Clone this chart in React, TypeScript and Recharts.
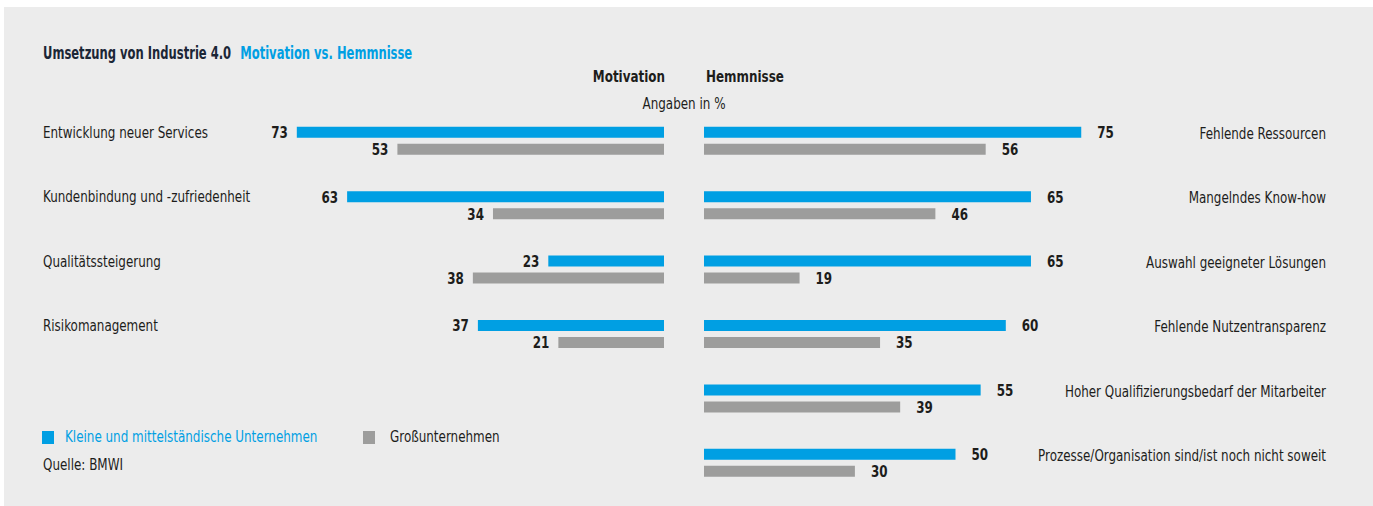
import React from 'react';
import { BarChart, Bar, XAxis, YAxis, LabelList } from 'recharts';

const motivationCategories = [
  'Entwicklung neuer Services',
  'Kundenbindung und -zufriedenheit',
  'Qualitätssteigerung',
  'Risikomanagement',
];
const motivationKMU = [73, 63, 23, 37];
const motivationGross = [53, 34, 38, 21];

const hemmnisCategories = [
  'Fehlende Ressourcen',
  'Mangelndes Know-how',
  'Auswahl geeigneter Lösungen',
  'Fehlende Nutzentransparenz',
  'Hoher Qualifizierungsbedarf der Mitarbeiter',
  'Prozesse/Organisation sind/ist noch nicht soweit',
];
const hemmnisKMU = [75, 65, 65, 60, 55, 50];
const hemmnisGross = [56, 46, 19, 35, 39, 30];

const seriesNames = ['Kleine und mittelständische Unternehmen', 'Großunternehmen'];

const BLUE = '#009fe3';
const GRAY = '#9d9d9c';
const BG = '#ececec';
const TEXT = '#1d1d1b';
const FONT = "'DejaVu Sans Condensed', 'DejaVu Sans', sans-serif";
const SX = 0.83;

const motivationData = motivationCategories.map((name, i) => ({
  name,
  kmu: motivationKMU[i],
  gross: motivationGross[i],
}));
const hemmnisData = hemmnisCategories.map((name, i) => ({
  name,
  kmu: hemmnisKMU[i],
  gross: hemmnisGross[i],
}));

const NarrowText = ({ x, y, anchor, bold, children }: any) => (
  <text
    transform={`translate(${x} ${y}) scale(${SX} 1)`}
    textAnchor={anchor}
    dominantBaseline="central"
    fill={TEXT}
    fontFamily={FONT}
    fontWeight={bold ? 'bold' : 'normal'}
    fontSize={16}
  >
    {children}
  </text>
);

const LeftTick = (props: any) => {
  const { x, y, payload } = props;
  return <NarrowText x={x} y={y - 9} anchor="start">{payload.value}</NarrowText>;
};
const RightTick = (props: any) => {
  const { x, y, payload } = props;
  return <NarrowText x={x} y={y - 8} anchor="end">{payload.value}</NarrowText>;
};

const LeftValue = (props: any) => {
  const { x, y, width, height, value } = props;
  const left = Math.min(x, x + width);
  return <NarrowText x={left - 9} y={y + height / 2} anchor="end" bold>{value}</NarrowText>;
};
const RightValue = (props: any) => {
  const { x, y, width, height, value } = props;
  const right = Math.max(x, x + width);
  return <NarrowText x={right + 16} y={y + height / 2} anchor="start" bold>{value}</NarrowText>;
};

const W = 1373;
const H = 506;
const BAND = 64.4;
const TOP = 108.8;

const narrowLeft = { transform: `scaleX(${SX})`, transformOrigin: 'left center', display: 'inline-block' } as const;
const narrowRight = { transform: `scaleX(${SX})`, transformOrigin: 'right center', display: 'inline-block' } as const;
const narrowCenter = { transform: `scaleX(${SX})`, transformOrigin: 'center center', display: 'inline-block' } as const;

export default function App() {
  return (
    <div style={{ position: 'absolute', left: 0, top: 0, width: W, height: H, background: '#fff', fontFamily: FONT, color: TEXT, fontSize: 16, lineHeight: '20px' }}>
      <div style={{ position: 'absolute', left: 4, top: 7, right: 0, bottom: 0, background: BG }} />
      <div style={{ position: 'absolute', left: 43, top: 43, fontSize: 17, lineHeight: '20px', fontWeight: 'bold', whiteSpace: 'nowrap', transform: 'scaleX(0.755)', transformOrigin: 'left center' }}>
        <span style={{ color: '#1b2636' }}>Umsetzung von Industrie 4.0</span>
        <span style={{ color: BLUE, marginLeft: 12 }}>Motivation vs. Hemmnisse</span>
      </div>
      <div style={{ position: 'absolute', right: W - 665, top: 67, fontWeight: 'bold', whiteSpace: 'nowrap' }}>
        <span style={narrowRight}>Motivation</span>
      </div>
      <div style={{ position: 'absolute', left: 706, top: 67, fontWeight: 'bold', whiteSpace: 'nowrap' }}>
        <span style={narrowLeft}>Hemmnisse</span>
      </div>
      <div style={{ position: 'absolute', left: 584, width: 200, textAlign: 'center', top: 94, whiteSpace: 'nowrap' }}>
        <span style={narrowCenter}>Angaben in %</span>
      </div>

      <div style={{ position: 'absolute', left: 0, top: 0 }}>
        <BarChart
          width={W}
          height={H}
          layout="vertical"
          data={motivationData}
          margin={{ top: TOP, bottom: H - TOP - BAND * 4, left: 43, right: W - 664 }}
          barSize={11}
          barGap={6}
          barCategoryGap={0}
        >
          <XAxis type="number" domain={[0, 100]} reversed hide />
          <YAxis type="category" dataKey="name" width={118} tickSize={0} tickMargin={118} axisLine={false} tickLine={false} tick={<LeftTick />} interval={0} />
          <Bar dataKey="kmu" name={seriesNames[0]} fill={BLUE} isAnimationActive={false}>
            <LabelList dataKey="kmu" content={<LeftValue />} />
          </Bar>
          <Bar dataKey="gross" name={seriesNames[1]} fill={GRAY} isAnimationActive={false}>
            <LabelList dataKey="gross" content={<LeftValue />} />
          </Bar>
        </BarChart>
      </div>

      <div style={{ position: 'absolute', left: 0, top: 0 }}>
        <BarChart
          width={W}
          height={H}
          layout="vertical"
          data={hemmnisData}
          margin={{ top: TOP, bottom: H - TOP - BAND * 6, left: 704, right: W - 1326 }}
          barSize={11}
          barGap={6}
          barCategoryGap={0}
        >
          <XAxis type="number" domain={[0, 100]} hide />
          <YAxis type="category" dataKey="name" orientation="right" width={119} tickSize={0} tickMargin={119} axisLine={false} tickLine={false} tick={<RightTick />} interval={0} />
          <Bar dataKey="kmu" name={seriesNames[0]} fill={BLUE} isAnimationActive={false}>
            <LabelList dataKey="kmu" content={<RightValue />} />
          </Bar>
          <Bar dataKey="gross" name={seriesNames[1]} fill={GRAY} isAnimationActive={false}>
            <LabelList dataKey="gross" content={<RightValue />} />
          </Bar>
        </BarChart>
      </div>

      <div style={{ position: 'absolute', left: 42, top: 427, display: 'flex', alignItems: 'center', whiteSpace: 'nowrap' }}>
        <span style={{ width: 12, height: 13, background: BLUE, display: 'inline-block', marginRight: 11 }} />
        <span style={{ ...narrowLeft, color: BLUE }}>{seriesNames[0]}</span>
      </div>
      <div style={{ position: 'absolute', left: 363, top: 427, display: 'flex', alignItems: 'center', whiteSpace: 'nowrap' }}>
        <span style={{ width: 12, height: 13, background: GRAY, display: 'inline-block', marginRight: 15 }} />
        <span style={narrowLeft}>{seriesNames[1]}</span>
      </div>
      <div style={{ position: 'absolute', left: 43, top: 455, whiteSpace: 'nowrap' }}>
        <span style={narrowLeft}>Quelle: BMWI</span>
      </div>
    </div>
  );
}
